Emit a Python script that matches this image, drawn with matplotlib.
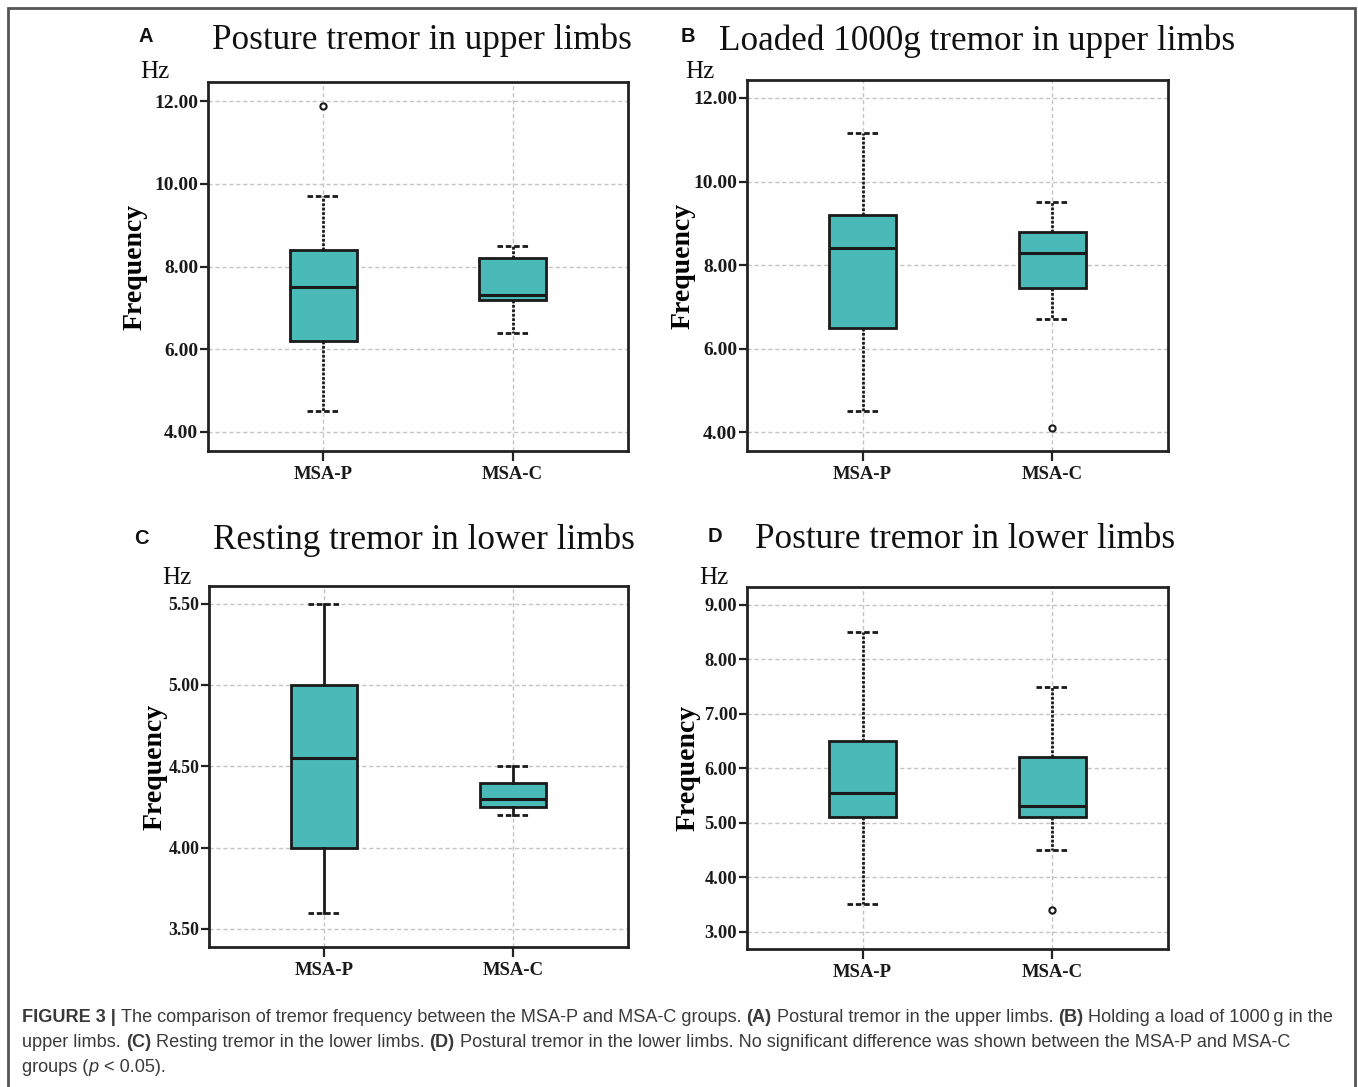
import matplotlib
matplotlib.use("Agg")
import matplotlib.pyplot as plt
from matplotlib.patches import Rectangle

# ---------------- data ----------------
groups = ["MSA-P", "MSA-C"]

titles = ["Posture tremor in upper limbs", "Loaded 1000g tremor in upper limbs",
          "Resting tremor in lower limbs", "Posture tremor in lower limbs"]
letters = ["A", "B", "C", "D"]

# per panel, per group: [MSA-P, MSA-C]
whislo = [[4.5, 6.4], [4.5, 6.7], [3.6, 4.2], [3.5, 4.5]]
q1 = [[6.2, 7.2], [6.5, 7.45], [4.0, 4.25], [5.1, 5.1]]
med = [[7.5, 7.3], [8.4, 8.3], [4.55, 4.3], [5.55, 5.3]]
q3 = [[8.4, 8.2], [9.2, 8.8], [5.0, 4.4], [6.5, 6.2]]
whishi = [[9.7, 8.5], [11.17, 9.5], [5.5, 4.5], [8.5, 7.5]]
fliers = [[[11.88], []], [[], [4.1]], [[], []], [[], [3.4]]]

yticks = [[4, 6, 8, 10, 12], [4, 6, 8, 10, 12],
          [3.5, 4.0, 4.5, 5.0, 5.5], [3, 4, 5, 6, 7, 8, 9]]
ylims = [(3.54, 12.46), (3.55, 12.43), (3.389, 5.608), (2.68, 9.33)]

# ---------------- layout ----------------
W, H = 1358, 1087
fig = plt.figure(figsize=(W / 100, H / 100), dpi=100)
fig.patch.set_facecolor("white")

def px(x0, y0, x1, y1):
    return [x0 / W, 1 - y1 / H, (x1 - x0) / W, (y1 - y0) / H]

axes_px = [(208, 82, 628, 451), (747, 80, 1168, 451),
           (209, 586, 628, 947), (747, 587, 1168, 949)]
title_pos = [(422, 49), (977, 50), (424, 549), (965, 548)]
letter_pos = [(146, 37), (688, 37), (141, 539), (715, 537)]
hz_pos = [(155, 72), (700, 72), (177, 578), (714, 578)]
ylabel_right = [148, 696, 168, 701]
ytick_size = [14, 14, 12.8, 13.3]
whisker_solid = [False, False, True, False]

serif = "Liberation Serif"
sans = "Liberation Sans"
teal = "#4ABAB8"
edge = "#1a1a1a"

for i in range(4):
    ax = fig.add_axes(px(*axes_px[i]))
    stats = []
    for g in range(2):
        stats.append(dict(med=med[i][g], q1=q1[i][g], q3=q3[i][g],
                          whislo=whislo[i][g], whishi=whishi[i][g],
                          fliers=fliers[i][g], label=groups[g]))
    wls = "-" if whisker_solid[i] else (0, (1.0, 0.6))
    ax.bxp(stats, positions=[1, 2], widths=0.35, capwidths=0.17,
           patch_artist=True, showfliers=True,
           boxprops=dict(facecolor=teal, edgecolor=edge, linewidth=2.0),
           medianprops=dict(color=edge, linewidth=2.2),
           whiskerprops=dict(color=edge, linewidth=2.0, linestyle=wls),
           capprops=dict(color=edge, linewidth=2.0, linestyle=(0, (2.0, 1.0))),
           flierprops=dict(marker="o", markersize=4.5, markerfacecolor="white",
                           markeredgecolor=edge, markeredgewidth=1.5))
    ax.set_xlim(0.39, 2.61)
    ax.set_ylim(*ylims[i])
    ax.set_yticks(yticks[i])
    ax.set_yticklabels([f"{v:.2f}" for v in yticks[i]])
    ax.set_xticks([1, 2])
    ax.set_xticklabels(groups)
    ax.grid(True, color="#c4c4c4", linestyle=(0, (3, 2)), linewidth=1.0)
    ax.set_axisbelow(True)
    for s in ax.spines.values():
        s.set_linewidth(2.0)
        s.set_color("#222222")
    ax.tick_params(axis="y", length=6, width=1.6, pad=1, color="#222222")
    ax.tick_params(axis="x", length=7.5, width=1.6, pad=3, color="#222222")
    for lab in ax.get_yticklabels():
        lab.set_fontfamily(serif)
        lab.set_fontweight("bold")
        lab.set_fontsize(ytick_size[i])
        lab.set_color("#1a1a1a")
    for lab in ax.get_xticklabels():
        lab.set_fontfamily(serif)
        lab.set_fontweight("bold")
        lab.set_fontsize(13.5)
        lab.set_color("#1a1a1a")
    ax.set_ylabel("Frequency", fontfamily=serif, fontweight="bold", fontsize=20)
    x0, y0, x1, y1 = axes_px[i]
    ax.yaxis.set_label_coords((ylabel_right[i] - x0) / (x1 - x0), 0.5)

    tx, ty = title_pos[i]
    fig.text(tx / W, 1 - ty / H, titles[i], ha="center", va="baseline",
             fontfamily=serif, fontsize=25.3, color="#111111")
    lx, ly = letter_pos[i]
    fig.text(lx / W, 1 - ly / H, letters[i], ha="center", va="center",
             fontfamily=sans, fontweight="bold", fontsize=14.5, color="#111111")
    hx, hy = hz_pos[i]
    fig.text(hx / W, 1 - hy / H, "Hz", ha="center", va="center",
             fontfamily=serif, fontsize=18, color="#111111")

# outer frame
fig.add_artist(Rectangle((8 / W, -0.02), (1355 - 8) / W, 1.02 - 8 / H,
                         transform=fig.transFigure, fill=False,
                         edgecolor="#555555", linewidth=2.0))

# ---------------- caption ----------------
cap_size = 13.1
cap_color = "#3a3a3a"
renderer = fig.canvas.get_renderer()

def measure(s, weight="normal", style="normal"):
    t = fig.text(0, 0, s, fontfamily=[sans, "DejaVu Sans"], fontsize=cap_size,
                 fontweight=weight, fontstyle=style)
    w = t.get_window_extent(renderer).width
    t.remove()
    return w

space_w = {}
def sp(weight, style):
    key = (weight, style)
    if key not in space_w:
        space_w[key] = measure("a a", weight, style) - measure("aa", weight, style)
    return space_w[key]

def draw_line(x, y, pieces):
    for s, weight, style in pieces:
        lead = len(s) - len(s.lstrip(" "))
        trail = len(s) - len(s.rstrip(" "))
        core = s.strip(" ")
        x += lead * sp(weight, style)
        if core:
            t = fig.text(x / W, 1 - y / H, core, fontfamily=[sans, "DejaVu Sans"],
                         fontsize=cap_size, fontweight=weight, fontstyle=style,
                         color=cap_color, ha="left", va="baseline")
            x += t.get_window_extent(renderer).width
        x += trail * sp(weight, style)

N, B, I = "normal", "bold", "italic"
line1 = [("FIGURE 3 |", B, N),
         (" The comparison of tremor frequency between the MSA-P and MSA-C groups. ", N, N),
         ("(A)", B, N), (" Postural tremor in the upper limbs. ", N, N),
         ("(B)", B, N), (" Holding a load of 1000\u2009g in the", N, N)]
line2 = [("upper limbs. ", N, N), ("(C)", B, N),
         (" Resting tremor in the lower limbs. ", N, N), ("(D)", B, N),
         (" Postural tremor in the lower limbs. No significant difference was shown between the MSA-P and MSA-C", N, N)]
line3 = [("groups (", N, N), ("p", N, I), (" < 0.05).", N, N)]

draw_line(22, 1022, line1)
draw_line(22, 1047, line2)
draw_line(22, 1072, line3)

fig.savefig("out.png", dpi=100, facecolor="white")
